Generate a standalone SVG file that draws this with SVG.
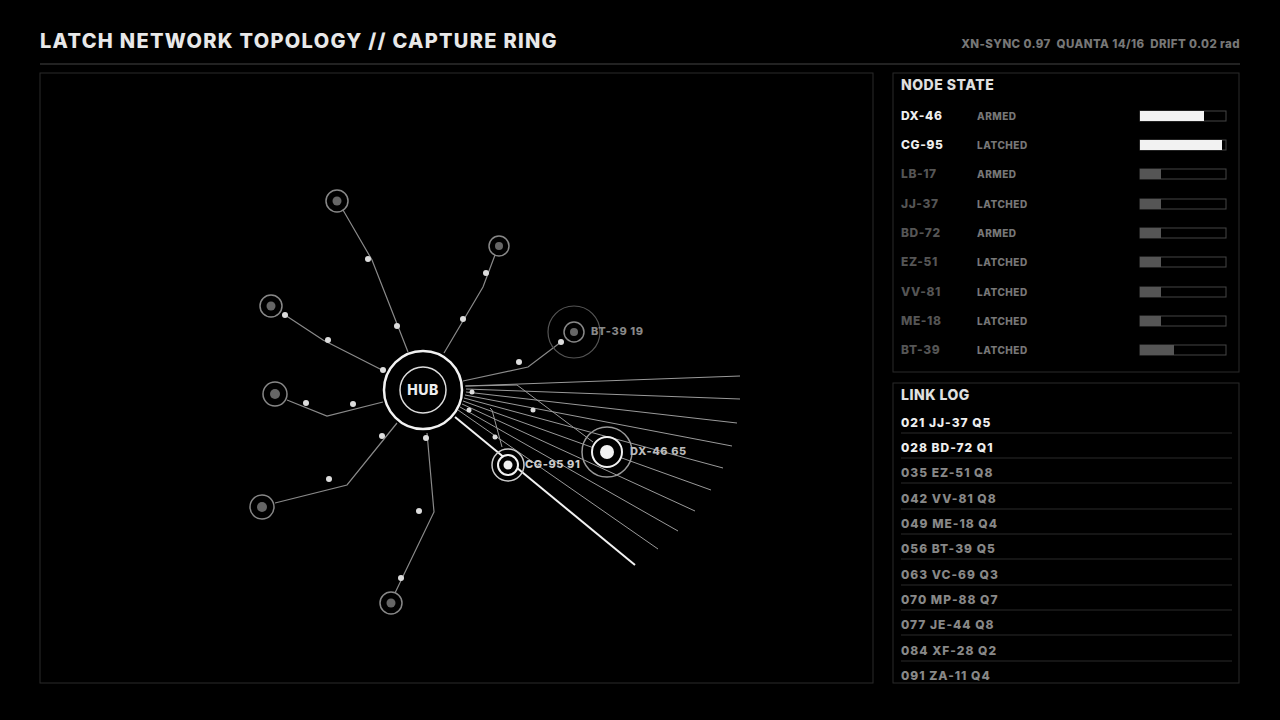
<svg xmlns="http://www.w3.org/2000/svg" width="1280" height="720" viewBox="0 0 1280 720">
<style>
.t{font-family:Inter,"Noto Sans",sans-serif;font-weight:800}
.p{fill:#000;stroke:#2a2a2a;stroke-width:1}
.e{fill:none;stroke:#8a8a8a;stroke-width:1.2}
.f{stroke:#9a9a9a;stroke-width:1}
.d{fill:#ddd}
.ring{fill:#000;stroke:#888;stroke-width:1.5}
.core{fill:#666}
.nm{font-size:12px;letter-spacing:0.6px}
.st{font-size:10px;fill:#777;letter-spacing:0.5px}
.bar{fill:none;stroke:#444;stroke-width:1}
.lg{font-size:12px;fill:#888;letter-spacing:1px}
.sep{stroke:#2a2a2a;stroke-width:1}
</style>
<rect width="1280" height="720" fill="#000"/>
<text class="t" x="40" y="48" font-size="20" fill="#e8e8e8" letter-spacing="1.3">LATCH NETWORK TOPOLOGY // CAPTURE RING</text>
<text class="t" x="1240" y="48" font-size="11.5" fill="#777" text-anchor="end" letter-spacing="0.4" xml:space="preserve">XN-SYNC 0.97  QUANTA 14/16  DRIFT 0.02 rad</text>
<line x1="40" y1="64" x2="1240" y2="64" stroke="#444"/>
<rect class="p" x="40" y="73" width="833" height="610"/>
<rect class="p" x="893" y="73" width="346" height="299"/>
<rect class="p" x="893" y="383" width="346" height="300"/>
<g id="connectors">
<polyline class="e" points="343,210 372,260 408,352"/>
<polyline class="e" points="495,255 483,287 444,353"/>
<polyline class="e" points="285,315 323,340 382,370"/>
<polyline class="e" points="287,400 327,416 383,402"/>
<polyline class="e" points="275,503 347,485 397,423"/>
<polyline class="e" points="395,593 434,512 427,433"/>
<polyline class="e" points="463,381 528,367 561,342"/>
<g class="f">
<line x1="465" y1="386" x2="740" y2="376"/>
<line x1="466" y1="389" x2="740" y2="399"/>
<line x1="466" y1="392" x2="737" y2="423"/>
<line x1="465" y1="395" x2="732" y2="446"/>
<line x1="464" y1="398" x2="723" y2="468"/>
<line x1="463" y1="401" x2="711" y2="490"/>
<line x1="462" y1="404" x2="695" y2="511"/>
<line x1="460" y1="407" x2="678" y2="531"/>
<line x1="458" y1="410" x2="658" y2="549"/>
<polyline fill="none" points="466,386 517,385 593,442"/>
<polyline fill="none" points="490,408 492,410 502,447"/>
</g>
<line x1="455" y1="417" x2="635" y2="565" stroke="#f2f2f2" stroke-width="2"/>
</g>
<g id="dots">
<circle class="d" cx="368" cy="259" r="3"/><circle class="d" cx="397" cy="326" r="3"/>
<circle class="d" cx="486" cy="273" r="3"/><circle class="d" cx="463" cy="319" r="3"/>
<circle class="d" cx="285" cy="315" r="3"/><circle class="d" cx="328" cy="340" r="3"/><circle class="d" cx="383" cy="370" r="3"/>
<circle class="d" cx="306" cy="403" r="3"/><circle class="d" cx="353" cy="404" r="3"/>
<circle class="d" cx="329" cy="479" r="3"/><circle class="d" cx="382" cy="436" r="3"/>
<circle class="d" cx="401" cy="578" r="3"/><circle class="d" cx="419" cy="511" r="3"/><circle class="d" cx="426" cy="438" r="3"/>
<circle class="d" cx="519" cy="362" r="3"/><circle class="d" cx="561" cy="342" r="3"/>
<circle class="d" cx="472" cy="392" r="2.5"/><circle class="d" cx="469" cy="410" r="2.5"/>
<circle class="d" cx="533" cy="410" r="2.5"/><circle class="d" cx="495" cy="437" r="2.5"/>
</g>
<g id="hub">
<circle cx="423" cy="390" r="39" fill="#000" stroke="#f2f2f2" stroke-width="2.5"/>
<circle cx="423" cy="390" r="23" fill="none" stroke="#ddd" stroke-width="1.5"/>
<text class="t" x="423" y="395" font-size="14" fill="#eee" text-anchor="middle" letter-spacing="0.5">HUB</text>
</g>
<g id="n1"><circle class="ring" cx="337" cy="201" r="11"/><circle class="core" cx="337" cy="201" r="4.5"/></g>
<g id="n2"><circle class="ring" cx="499" cy="246" r="10"/><circle class="core" cx="499" cy="246" r="4"/></g>
<g id="n3"><circle class="ring" cx="271" cy="306" r="11"/><circle class="core" cx="271" cy="306" r="4.5"/></g>
<g id="n4"><circle class="ring" cx="275" cy="394" r="12"/><circle class="core" cx="275" cy="394" r="5"/></g>
<g id="n5"><circle class="ring" cx="262" cy="507" r="12"/><circle class="core" cx="262" cy="507" r="5"/></g>
<g id="n6"><circle class="ring" cx="391" cy="603" r="11"/><circle class="core" cx="391" cy="603" r="4.5"/></g>
<g id="bt39">
<circle cx="574" cy="332" r="26" fill="none" stroke="#555" stroke-width="1.2"/>
<circle class="ring" cx="574" cy="332" r="10"/><circle class="core" cx="574" cy="332" r="4"/>
<text class="t" x="591" y="335" font-size="11" fill="#888" letter-spacing="0.6">BT-39 19</text>
</g>
<g id="dx46">
<circle cx="607" cy="452" r="25" fill="none" stroke="#999" stroke-width="1.5"/>
<circle cx="607" cy="452" r="15" fill="#000" stroke="#f2f2f2" stroke-width="2"/>
<circle cx="607" cy="452" r="7" fill="#f2f2f2"/>
<text class="t" x="630" y="455" font-size="11" fill="#bbb" letter-spacing="0.6">DX-46 65</text>
</g>
<g id="cg95">
<circle cx="508" cy="465" r="16" fill="none" stroke="#ccc" stroke-width="1.5"/>
<circle cx="508" cy="465" r="10" fill="#000" stroke="#f2f2f2" stroke-width="2"/>
<circle cx="508" cy="465" r="4.5" fill="#f2f2f2"/>
<text class="t" x="525" y="468" font-size="11" fill="#ccc" letter-spacing="0.6">CG-95 91</text>
</g>
<g id="node-state">
<text class="t" x="901" y="90" font-size="14" fill="#e0e0e0" letter-spacing="0.5">NODE STATE</text>
<g class="t">
<text class="nm" x="901" y="120" fill="#eee">DX-46</text><text class="st" x="977" y="120">ARMED</text>
<text class="nm" x="901" y="149" fill="#eee">CG-95</text><text class="st" x="977" y="149">LATCHED</text>
<text class="nm" x="901" y="178" fill="#555">LB-17</text><text class="st" x="977" y="178">ARMED</text>
<text class="nm" x="901" y="208" fill="#555">JJ-37</text><text class="st" x="977" y="208">LATCHED</text>
<text class="nm" x="901" y="237" fill="#555">BD-72</text><text class="st" x="977" y="237">ARMED</text>
<text class="nm" x="901" y="266" fill="#555">EZ-51</text><text class="st" x="977" y="266">LATCHED</text>
<text class="nm" x="901" y="296" fill="#555">VV-81</text><text class="st" x="977" y="296">LATCHED</text>
<text class="nm" x="901" y="325" fill="#555">ME-18</text><text class="st" x="977" y="325">LATCHED</text>
<text class="nm" x="901" y="354" fill="#555">BT-39</text><text class="st" x="977" y="354">LATCHED</text>
</g>
<rect class="bar" x="1140" y="111" width="86" height="10"/><rect x="1140" y="111" width="64" height="10" fill="#f2f2f2"/>
<rect class="bar" x="1140" y="140" width="86" height="10"/><rect x="1140" y="140" width="82" height="10" fill="#f2f2f2"/>
<rect class="bar" x="1140" y="169" width="86" height="10"/><rect x="1140" y="169" width="21" height="10" fill="#555"/>
<rect class="bar" x="1140" y="199" width="86" height="10"/><rect x="1140" y="199" width="21" height="10" fill="#555"/>
<rect class="bar" x="1140" y="228" width="86" height="10"/><rect x="1140" y="228" width="21" height="10" fill="#555"/>
<rect class="bar" x="1140" y="257" width="86" height="10"/><rect x="1140" y="257" width="21" height="10" fill="#555"/>
<rect class="bar" x="1140" y="287" width="86" height="10"/><rect x="1140" y="287" width="21" height="10" fill="#555"/>
<rect class="bar" x="1140" y="316" width="86" height="10"/><rect x="1140" y="316" width="21" height="10" fill="#555"/>
<rect class="bar" x="1140" y="345" width="86" height="10"/><rect x="1140" y="345" width="34" height="10" fill="#555"/>
</g>
<g id="link-log">
<text class="t" x="901" y="400" font-size="14" fill="#e0e0e0" letter-spacing="0.5">LINK LOG</text>
<g class="t">
<text class="lg" x="901" y="427" style="fill:#eee">021 JJ-37 Q5</text>
<text class="lg" x="901" y="452" style="fill:#eee">028 BD-72 Q1</text>
<text class="lg" x="901" y="477">035 EZ-51 Q8</text>
<text class="lg" x="901" y="503">042 VV-81 Q8</text>
<text class="lg" x="901" y="528">049 ME-18 Q4</text>
<text class="lg" x="901" y="553">056 BT-39 Q5</text>
<text class="lg" x="901" y="579">063 VC-69 Q3</text>
<text class="lg" x="901" y="604">070 MP-88 Q7</text>
<text class="lg" x="901" y="629">077 JE-44 Q8</text>
<text class="lg" x="901" y="655">084 XF-28 Q2</text>
<text class="lg" x="901" y="680">091 ZA-11 Q4</text>
</g>
<g class="sep">
<line x1="901" y1="433" x2="1232" y2="433"/><line x1="901" y1="458" x2="1232" y2="458"/>
<line x1="901" y1="483" x2="1232" y2="483"/><line x1="901" y1="509" x2="1232" y2="509"/>
<line x1="901" y1="534" x2="1232" y2="534"/><line x1="901" y1="559" x2="1232" y2="559"/>
<line x1="901" y1="585" x2="1232" y2="585"/><line x1="901" y1="610" x2="1232" y2="610"/>
<line x1="901" y1="635" x2="1232" y2="635"/><line x1="901" y1="661" x2="1232" y2="661"/>
</g>
</g>
</svg>
